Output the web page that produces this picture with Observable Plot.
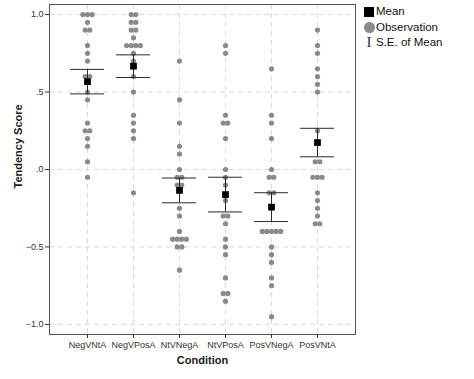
<!DOCTYPE html>
<html>
<head>
<meta charset="utf-8">
<script src="https://cdn.jsdelivr.net/npm/d3@7"></script>
<script src="https://cdn.jsdelivr.net/npm/@observablehq/plot@0.6"></script>
<style>
  body { margin: 0; background: #fff; }
  #wrap { position: relative; width: 474px; height: 379px; font-family: "Liberation Sans", Arial, sans-serif; }
  #chart { position: absolute; left: 0; top: 0; }
  #legend { position: absolute; left: 363px; top: 4px; font-size: 11.5px; color: #111; line-height: 15.5px; }
  .row { display: flex; align-items: center; height: 15.5px; }
  .sym { width: 12px; display: flex; justify-content: center; align-items: center; margin-right: 1px; }
</style>
</head>
<body>
<div id="wrap">
  <div id="chart"></div>
  <div id="legend">
    <div class="row"><span class="sym"><span style="display:inline-block;width:10px;height:10px;background:#000"></span></span>Mean</div>
    <div class="row"><span class="sym"><span style="display:inline-block;width:11px;height:11px;border-radius:50%;background:#8a8a8a"></span></span>Observation</div>
    <div class="row"><span class="sym" style="font-family:'Liberation Serif',serif;font-size:15px;color:#333">I</span>S.E. of Mean</div>
  </div>
</div>
<script>
const conditions = ["NegVNtA", "NegVPosA", "NtVNegA", "NtVPosA", "PosVNegA", "PosVNtA"];

const negVNtA  = [1, 1, 1, 0.95, 0.9, 0.9, 0.8, 0.75, 0.7, 0.6, 0.6, 0.5, 0.45, 0.3, 0.25, 0.25, 0.2, 0.15, 0.05, -0.05];
const negVPosA = [1, 1, 0.95, 0.95, 0.9, 0.9, 0.85, 0.8, 0.8, 0.8, 0.8, 0.75, 0.7, 0.6, 0.5, 0.35, 0.3, 0.25, 0.2, -0.15];
const ntVNegA  = [0.7, 0.45, 0.3, 0.15, 0.1, 0, -0.05, -0.05, -0.1, -0.1, -0.25, -0.3, -0.4, -0.45, -0.45, -0.45, -0.45, -0.5, -0.5, -0.65];
const ntVPosA  = [0.8, 0.75, 0.35, 0.3, 0.3, 0.2, 0, -0.05, -0.1, -0.2, -0.3, -0.3, -0.35, -0.45, -0.5, -0.55, -0.7, -0.8, -0.8, -0.85];
const posVNegA = [0.65, 0.35, 0.3, 0.2, 0, -0.05, -0.05, -0.15, -0.15, -0.4, -0.4, -0.4, -0.4, -0.4, -0.5, -0.55, -0.6, -0.7, -0.75, -0.95];
const posVNtA  = [0.9, 0.8, 0.75, 0.65, 0.6, 0.55, 0.5, 0.25, 0.05, 0.05, -0.05, -0.05, -0.05, -0.15, -0.2, -0.25, -0.3, -0.35, -0.35];

const means = [0.567, 0.667, -0.135, -0.162, -0.243, 0.174];
const seOfMean = [0.079, 0.073, 0.080, 0.112, 0.093, 0.092];

const yTicks = [-1, -0.5, 0, 0.5, 1];

const series = [negVNtA, negVPosA, ntVNegA, ntVPosA, posVNegA, posVNtA];

// observations table with stacking rank among equal values (half-step units)
const obs = [];
series.forEach((vals, i) => {
  const counts = d3.rollup(vals, v => v.length, v => v);
  const seen = new Map();
  vals.forEach(v => {
    const n = counts.get(v);
    const k = seen.get(v) || 0;
    seen.set(v, k + 1);
    obs.push({condition: conditions[i], value: v, slot: 2 * k - (n - 1)});
  });
});
const slots = Array.from(new Set(obs.map(d => d.slot))).sort((a, b) => a - b);

const summary = conditions.map((c, i) => ({condition: c, mean: means[i], lo: means[i] - seOfMean[i], hi: means[i] + seOfMean[i]}));

const fmt = d => d3.format(".1f")(d).replace(/^(-?)0\./, "$1.");

const halfStep = 2.3;

const chart = Plot.plot({
  width: 474,
  height: 379,
  marginLeft: 49,
  marginRight: 119,
  marginTop: 4,
  marginBottom: 45,
  style: {fontFamily: "'Liberation Sans', Arial, sans-serif", background: "transparent"},
  x: {type: "band", domain: conditions, paddingInner: 0.26, paddingOuter: 0.456},
  y: {domain: [-1.065, 1.065]},
  marks: [
    Plot.gridY(yTicks, {stroke: "#d9d9d9", strokeOpacity: 1, strokeDasharray: "5,4"}),
    Plot.gridX(conditions, {stroke: "#d9d9d9", strokeOpacity: 1, strokeDasharray: "5,4"}),
    ...slots.map(s => Plot.dot(obs.filter(d => d.slot === s), {
      x: "condition", y: "value", dx: s * halfStep, r: 2.6, fill: "#8a8a8a", stroke: "none"
    })),
    Plot.ruleX(summary, {x: "condition", y1: "lo", y2: "hi", stroke: "#2a2a2a", strokeWidth: 1}),
    Plot.tickY(summary, {x: "condition", y: "lo", stroke: "#2a2a2a", strokeWidth: 1}),
    Plot.tickY(summary, {x: "condition", y: "hi", stroke: "#2a2a2a", strokeWidth: 1}),
    Plot.dot(summary, {x: "condition", y: "mean", symbol: "square", r: 3.8, fill: "#000", stroke: "none"}),
    Plot.frame({stroke: "#555", strokeWidth: 1}),
    Plot.axisY(yTicks, {tickFormat: fmt, tickSize: 4, tickPadding: 2, fontSize: 9, color: "#333", label: null}),
    Plot.axisX({tickSize: 4, tickPadding: 3, fontSize: 9, color: "#333", label: null}),
    Plot.text(["Tendency Score"], {frameAnchor: "left", dx: -31, dy: 19, rotate: -90, fontSize: 11, fontWeight: "bold", fill: "#1a1a1a"}),
    Plot.text(["Condition"], {frameAnchor: "bottom", dy: 29, fontSize: 11, fontWeight: "bold", fill: "#1a1a1a"})
  ]
});
document.getElementById("chart").appendChild(chart);
</script>
</body>
</html>
